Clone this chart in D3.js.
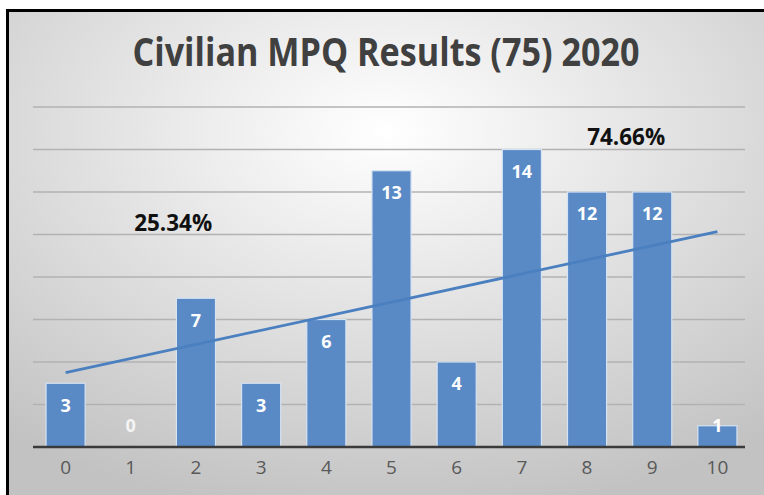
<!DOCTYPE html>
<html>
<head>
<meta charset="utf-8">
<script src="https://cdn.jsdelivr.net/npm/d3@7"></script>
<style>
  html, body { margin: 0; padding: 0; background: #fff; }
  svg { display: block; }
</style>
</head>
<body>
<svg id="chart" width="764" height="495"></svg>
<script>
// chart data
const scores = ["0", "1", "2", "3", "4", "5", "6", "7", "8", "9", "10"];
const counts = [3, 0, 7, 3, 6, 13, 4, 14, 12, 12, 1];
const yTicks = [0, 2, 4, 6, 8, 10, 12, 14, 16];
const title = "Civilian MPQ Results (75) 2020";
const noteText = ["25.34%", "74.66%"];
const noteAt = [1.65, 8.6];      // position in score units
const noteValue = [10.55, 14.63]; // position in count units

const svg = d3.select("#chart");
const width = +svg.attr("width");
const height = +svg.attr("height");

// background gradient
const defs = svg.append("defs");
const grad = defs.append("radialGradient")
  .attr("id", "bg")
  .attr("cx", "50%").attr("cy", "25%").attr("r", "80%");
grad.append("stop").attr("offset", "0%").attr("stop-color", "#ffffff");
grad.append("stop").attr("offset", "100%").attr("stop-color", "#c2c2c2");

svg.append("rect")
  .attr("x", 7).attr("y", 10)
  .attr("width", width - 7).attr("height", height - 10)
  .attr("fill", "url(#bg)");

// frame, only top and left edge show
svg.append("path")
  .attr("d", `M7.5,${height}V10.5H${width}`)
  .attr("fill", "none")
  .attr("stroke", "#000")
  .attr("stroke-width", 3);

const x = d3.scaleBand()
  .domain(scores)
  .range([33, 750])
  .paddingInner(0.4)
  .paddingOuter(0.2);

const y = d3.scaleLinear()
  .domain([0, 16])
  .range([447, 107]);

const cx = i => x(scores[i]) + x.bandwidth() / 2;
// fractional position between category centres
const at = v => {
  const lo = Math.floor(v), hi = Math.ceil(v);
  return cx(lo) + (cx(hi) - cx(lo)) * (v - lo);
};

// gridlines
svg.append("g")
  .selectAll("line")
  .data(yTicks.slice(1))
  .join("line")
  .attr("x1", 33)
  .attr("x2", 745)
  .attr("y1", d => y(d))
  .attr("y2", d => y(d))
  .attr("stroke", "#b2b2b2")
  .attr("stroke-width", 1.5);

// bars
svg.append("g")
  .selectAll("rect")
  .data(counts)
  .join("rect")
  .attr("x", (d, i) => x(scores[i]))
  .attr("width", x.bandwidth())
  .attr("y", d => y(d))
  .attr("height", d => y(0) - y(d))
  .attr("fill", "#5a8ac6")
  .attr("stroke", d => d > 0 ? "#d6e3f3" : "none")
  .attr("stroke-width", 1.2);

// baseline
svg.append("line")
  .attr("x1", 33).attr("x2", 745)
  .attr("y1", y(0)).attr("y2", y(0))
  .attr("stroke", "#3a3a3a")
  .attr("stroke-width", 2.5);

// x axis labels
const xAxis = svg.append("g")
  .attr("transform", `translate(0,${y(0)})`)
  .call(d3.axisBottom(x).tickSize(0).tickPadding(20));
xAxis.select(".domain").remove();
xAxis.selectAll("text")
  .attr("dy", "0.35em")
  .attr("font-family", "'Open Sans', sans-serif")
  .attr("font-size", 19)
  .attr("fill", "#595959");

// linear trendline (least squares through the counts)
const n = counts.length;
const mx = d3.mean(counts, (d, i) => i);
const my = d3.mean(counts);
const sxy = d3.sum(counts, (d, i) => (i - mx) * (d - my));
const sxx = d3.sum(counts, (d, i) => (i - mx) * (i - mx));
const slope = sxy / sxx;
const icpt = my - slope * mx;

svg.append("path")
  .datum([0, n - 1])
  .attr("d", d3.line().x(i => cx(i)).y(i => y(icpt + slope * i)))
  .attr("fill", "none")
  .attr("stroke", "#4a7fc0")
  .attr("stroke-width", 2.8);

// value labels
svg.append("g")
  .selectAll("text")
  .data(counts)
  .join("text")
  .attr("x", (d, i) => cx(i))
  .attr("y", d => Math.min(y(d) + 22, 426))
  .attr("dy", "0.35em")
  .attr("text-anchor", "middle")
  .attr("font-family", "'Open Sans', sans-serif")
  .attr("font-weight", "bold")
  .attr("font-size", 18)
  .attr("fill", d => d > 0 ? "#ffffff" : "#f4f4f4")
  .text(d => d);

// percentage notes
svg.append("g")
  .selectAll("text")
  .data(noteText)
  .join("text")
  .attr("x", (d, i) => at(noteAt[i]))
  .attr("y", (d, i) => y(noteValue[i]))
  .attr("dy", "0.35em")
  .attr("text-anchor", "middle")
  .attr("font-family", "'Open Sans', sans-serif")
  .attr("font-weight", "bold")
  .attr("font-size", 24)
  .attr("textLength", 78)
  .attr("lengthAdjust", "spacingAndGlyphs")
  .attr("fill", "#111")
  .text(d => d);

// title
svg.append("text")
  .attr("x", 386)
  .attr("y", 66)
  .attr("text-anchor", "middle")
  .attr("font-family", "'Open Sans', sans-serif")
  .attr("font-weight", "bold")
  .attr("font-size", 40)
  .attr("fill", "#404040")
  .attr("textLength", 507)
  .attr("lengthAdjust", "spacingAndGlyphs")
  .text(title);
</script>
</body>
</html>
